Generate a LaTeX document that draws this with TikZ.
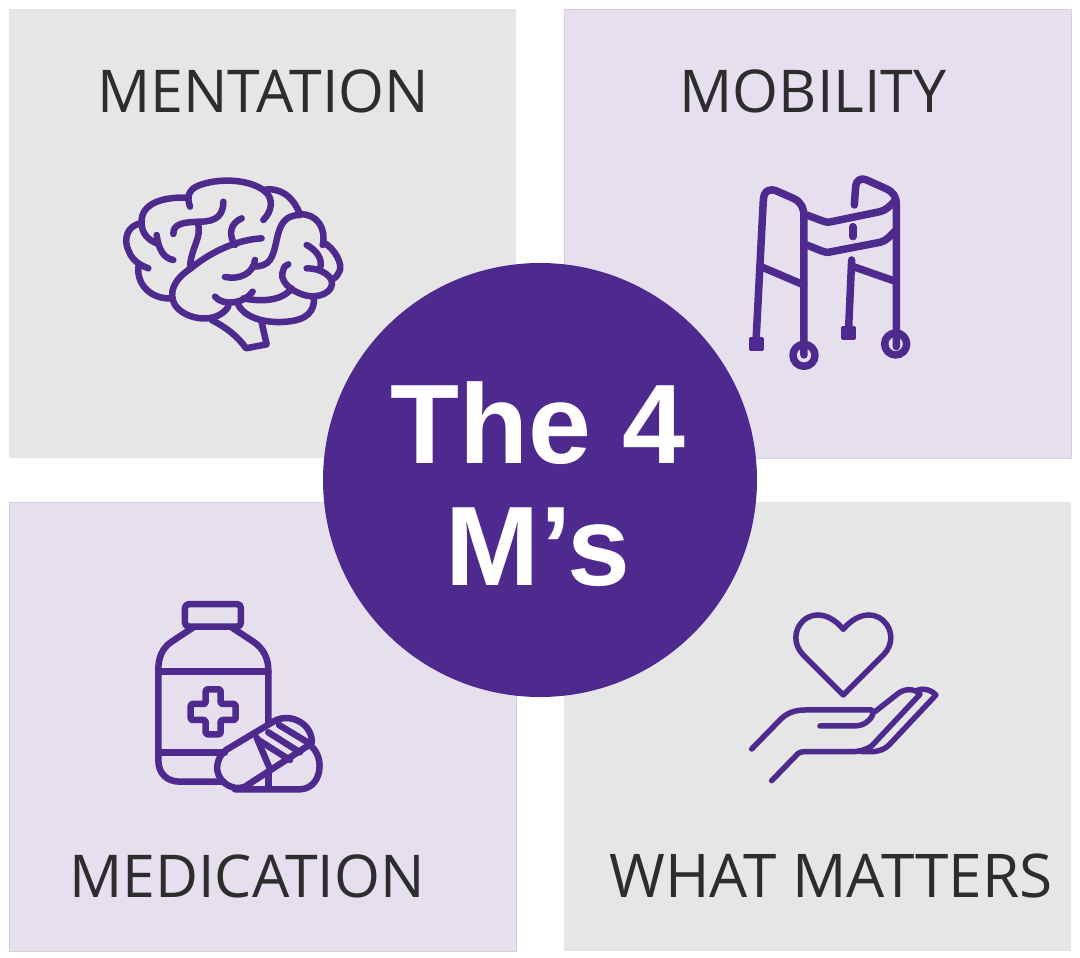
\documentclass[tikz,border=0pt]{standalone}
\usepackage{fontspec}
\setmainfont{Open Sans}
\newfontfamily\titlefont{Liberation Sans}
\definecolor{deeppurple}{HTML}{4E2A8E}
\definecolor{palepurple}{HTML}{E5DFEE}
\definecolor{palegrey}{HTML}{E6E6E6}
\definecolor{labelgrey}{HTML}{2D2D2D}
\tikzset{
	panel/.style={minimum width=507pt,minimum height=449pt,inner sep=0pt,outer sep=0pt},
	panelgrey/.style={panel,fill=palegrey},
	panelpurple/.style={panel,fill=palepurple,draw=palepurple!93!black,line width=0.4pt},
	panellabel/.style={text=labelgrey,font=\fontsize{#1}{60}\selectfont,inner sep=0pt},
	panellabel/.default=59,
	titlelabel/.style={text=white,font=\titlefont\bfseries\fontsize{113}{120}\selectfont,inner sep=0pt},
	icon/.style={draw=deeppurple,fill=none,line cap=round,line join=round,line width=#1},
	icon/.default=6.5pt
}
\begin{document}
\begin{tikzpicture}[x=1pt,y=-1pt]
		\useasboundingbox (0,0) rectangle (1080,958);
		\fill[white] (0,0) rectangle (1080,958);
		\node[panelgrey] (mentation) at (262.5,233.5) {};
		\node[panelpurple] (mobility) at (817.5,233.5) {};
		\node[panelpurple] (medication) at (262.5,726.5) {};
		\node[panelgrey] (matters) at (817.5,726.5) {};
		\node[panellabel] (mentationlabel) at (263,91) {MENTATION};
		\node[panellabel] (mobilitylabel) at (813,91) {MOBILITY};
		\node[panellabel] (medicationlabel) at (247,876) {MEDICATION};
		\node[panellabel=60.3] (matterslabel) at (831,876) {WHAT MATTERS};
		% brain
		\begin{scope}[shift={(110,165)},x=0.3333pt,y=-0.3333pt,icon]
			\draw (240,125) .. controls (230,95) and (235,75) .. (265,62) .. controls (320,40) and (410,40) .. (460,75) .. controls (495,100) and (485,140) .. (460,165);
			\draw (460,75) .. controls (510,65) and (550,95) .. (570,148);
			\draw (235,98) .. controls (170,95) and (90,110) .. (95,175) .. controls (95,205) and (115,225) .. (140,235);
			\draw (95,175) .. controls (50,180) and (40,225) .. (55,255) .. controls (62,275) and (75,295) .. (115,310);
			\draw (85,305) .. controls (80,365) and (130,405) .. (188,400);
			\draw (140,210) .. controls (145,250) and (160,280) .. (190,285);
			\draw (340,110) .. controls (340,150) and (320,170) .. (270,170) .. controls (220,172) and (190,175) .. (190,207);
			\draw (262,172) .. controls (280,215) and (240,250) .. (240,312);
			\draw (395,160) .. controls (360,175) and (355,210) .. (375,240);
			\draw (455,220) .. controls (370,225) and (290,270) .. (240,312) .. controls (190,345) and (175,385) .. (195,420) .. controls (225,465) and (320,480) .. (355,425);
			\draw (315,395) .. controls (340,425) and (405,415) .. (428,380);
			\draw (385,420) .. controls (410,465) and (480,475) .. (530,470) .. controls (590,465) and (615,440) .. (612,395);
			\draw (400,400) .. controls (450,410) and (515,410) .. (545,370);
			\draw (570,150) .. controls (490,150) and (510,240) .. (480,285) .. controls (470,300) and (450,305) .. (430,305);
			\draw (435,285) .. controls (430,325) and (390,345) .. (345,336);
			\draw (570,148) .. controls (620,145) and (650,190) .. (638,240);
			\draw (640,232) .. controls (675,250) and (700,300) .. (688,320) .. controls (680,335) and (675,340) .. (665,345);
			\draw (665,345) .. controls (675,385) and (620,400) .. (590,392) .. controls (540,380) and (505,345) .. (520,315) .. controls (522,305) and (528,300) .. (535,298);
			\draw (590,240) .. controls (620,255) and (640,285) .. (630,310);
			\draw (590,310) .. controls (620,310) and (650,320) .. (665,345);
			\draw (305,465) .. controls (345,485) and (385,515) .. (408,550) -- (470,538) -- (455,472);
		\end{scope}
		% walker
		\begin{scope}[shift={(735,165)},x=0.3333pt,y=-0.3333pt,icon=7.5pt]
			\draw (63,530) -- (85,105) .. controls (87,75) and (105,70) .. (125,78) -- (175,100) .. controls (200,112) and (207,130) .. (207,155) -- (207,570);
			\draw (78,305) -- (207,360);
			\draw (215,150) -- (260,167) .. controls (270,172) and (278,172) .. (290,170) -- (435,140) .. controls (455,135) and (465,122) .. (478,110);
			\draw (215,240) -- (260,258) .. controls (270,263) and (278,263) .. (290,260) -- (435,232) .. controls (455,228) and (465,212) .. (482,197);
			\draw (358,120) -- (362,65) .. controls (365,42) and (380,38) .. (395,45) -- (455,72) .. controls (475,82) and (484,95) .. (484,118) -- (484,545);
			\draw (354,185) -- (354,215);
			\draw (350,285) -- (340,510);
			\draw (355,305) -- (484,350);
			\filldraw[fill=deeppurple,line width=3pt] (46,521) rectangle (81,554);
			\filldraw[fill=deeppurple,line width=3pt] (322,487) rectangle (358,521);
			\draw (207,571) circle[radius=33];
			\draw (482,537) circle[radius=33];
		\end{scope}
		% medicine bottle
		\begin{scope}[shift={(140,590)},x=0.3333pt,y=-0.3333pt,icon]
			\draw[rounded corners=4pt] (135,42) rectangle (303,110);
			\draw (160,112) -- (95,155) .. controls (65,175) and (55,205) .. (55,240) -- (55,510) .. controls (55,550) and (80,575) .. (120,575) -- (250,575);
			\draw (275,112) -- (340,155) .. controls (370,175) and (385,205) .. (385,240) -- (385,395);
			\draw (55,245) -- (385,245);
			\draw (55,488) -- (255,488);
			\draw[rounded corners=2pt] (197,298) -- (242,298) -- (242,342) -- (287,342) -- (287,390) -- (242,390) -- (242,433) -- (197,433) -- (197,390) -- (152,390) -- (152,342) -- (197,342) -- cycle;
		\end{scope}
		% pills
		\begin{scope}[shift={(210,705)},x=0.3333pt,y=-0.3333pt,icon]
			\draw (48,135) -- (195,47) .. controls (245,22) and (310,60) .. (305,115) -- (105,245) .. controls (65,262) and (15,225) .. (22,180) .. controls (25,160) and (35,145) .. (48,135) -- cycle;
			\draw (305,125) .. controls (345,160) and (335,250) .. (270,253) -- (75,253);
			\draw (140,98) -- (180,192);
			\draw (175,205) -- (175,250);
			\draw (145,105) -- (240,165);
			\draw (175,82) -- (270,142);
			\draw (207,60) -- (298,115);
		\end{scope}
		% heart and hand
		\begin{scope}[shift={(735,600)},x=0.3333pt,y=-0.3333pt,icon=5.5pt]
			\draw (325,88) .. controls (290,45) and (240,30) .. (205,62) .. controls (175,90) and (175,135) .. (205,165) -- (325,285) -- (445,165) .. controls (475,135) and (475,90) .. (445,62) .. controls (410,30) and (360,45) .. (325,88) -- cycle;
			\draw (50,447) -- (130,365) .. controls (150,342) and (175,330) .. (210,330) -- (410,330) .. controls (420,335) and (410,355) .. (400,362) .. controls (390,373) and (375,378) .. (355,378) -- (255,378);
			\draw (420,335) -- (490,280) .. controls (510,265) and (540,265) .. (555,283) -- (410,438) .. controls (390,450) and (375,455) .. (350,455) -- (210,455) .. controls (195,455) and (188,460) .. (180,470) -- (110,542);
			\draw (380,455) -- (415,455) .. controls (435,453) and (450,447) .. (462,435) -- (603,285) .. controls (590,270) and (565,262) .. (545,272);
		\end{scope}
		\node[circle,fill=deeppurple,minimum size=434pt,inner sep=0pt] (hub) at (540,480) {};
		\node[titlelabel] (titletop) at (538,423) {The 4};
		\node[titlelabel] (titlebottom) at (538,547) {M’s};
		\end{tikzpicture}
\end{document}
